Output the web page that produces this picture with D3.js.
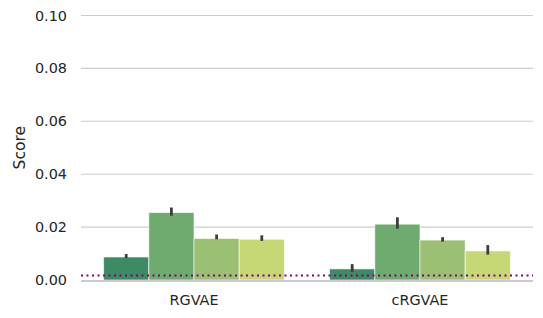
<!DOCTYPE html>
<html>
<head>
<meta charset="utf-8">
<script src="https://cdn.jsdelivr.net/npm/d3@7"></script>
<style>
  body { margin: 0; background: #fff; }
  text { font-family: "DejaVu Sans", sans-serif; fill: #262626; }
</style>
</head>
<body>
<div id="chart"></div>
<script>
// models on the x axis, four runs per model
var models = ["RGVAE", "cRGVAE"];
var runs = ["r1", "r2", "r3", "r4"];
var scores = [
    [0.0087, 0.0255, 0.0157, 0.0154],
    [0.0042, 0.0211, 0.0151, 0.0110]];
var errLow = [
    [0.0083, 0.0243, 0.0154, 0.0148],
    [0.0031, 0.0194, 0.0145, 0.0096]];
var errHigh = [
    [0.0098, 0.0274, 0.0172, 0.0169],
    [0.0060, 0.0237, 0.0162, 0.0132]];
var baseline = 0.0017;
var yTicks = [0, 0.02, 0.04, 0.06, 0.08, 0.10];

var width = 543,
    height = 318,
    margin = {top: 15.5, right: 10, bottom: 38, left: 81};

var color = d3.scaleOrdinal()
    .domain(runs)
    .range(["#3e8a65", "#6faa6e", "#9bbf73", "#c6d775"]);

var x = d3.scaleBand()
    .domain(models)
    .range([margin.left, width - margin.right]);

var xInner = d3.scaleBand()
    .domain(runs)
    .range([0, x.bandwidth() * 0.8]);

var y = d3.scaleLinear()
    .domain([0, 0.10])
    .range([height - margin.bottom, margin.top]);

var svg = d3.select("#chart")
    .append("svg")
    .attr("width", width)
    .attr("height", height);

// grid
svg.append("g")
    .selectAll("line")
    .data(yTicks.slice(1))
    .enter().append("line")
    .attr("x1", margin.left)
    .attr("x2", width - margin.right)
    .attr("y1", function (d) { return y(d); })
    .attr("y2", function (d) { return y(d); })
    .attr("stroke", "#cccccc")
    .attr("stroke-width", 1.1);

// y labels
svg.append("g")
    .selectAll("text")
    .data(yTicks)
    .enter().append("text")
    .attr("x", margin.left - 14)
    .attr("y", function (d) { return y(d); })
    .attr("dy", "0.35em")
    .attr("text-anchor", "end")
    .style("font-size", "14.4px")
    .text(function (d) { return d3.format(".2f")(d); });

svg.append("text")
    .attr("transform", "translate(25," + (height - margin.bottom + margin.top) / 2 + ") rotate(-90)")
    .attr("text-anchor", "middle")
    .style("font-size", "15.5px")
    .text("Score");

// bars
var flat = [];
models.forEach(function (m, i) {
    runs.forEach(function (r, j) {
        flat.push({model: m, run: r, value: scores[i][j], lo: errLow[i][j], hi: errHigh[i][j]});
    });
});

var bars = svg.append("g")
    .selectAll("g")
    .data(flat)
    .enter().append("g")
    .attr("transform", function (d) {
        return "translate(" + (x(d.model) + x.bandwidth() * 0.1 + xInner(d.run)) + ",0)";
    });

bars.append("rect")
    .attr("x", 0)
    .attr("width", xInner.bandwidth())
    .attr("y", function (d) { return y(d.value); })
    .attr("height", function (d) { return y(0) - y(d.value); })
    .attr("fill", function (d) { return color(d.run); })
    .attr("stroke", "#ffffff")
    .attr("stroke-opacity", 0.6)
    .attr("stroke-width", 1);

bars.append("line")
    .attr("x1", xInner.bandwidth() / 2)
    .attr("x2", xInner.bandwidth() / 2)
    .attr("y1", function (d) { return y(d.lo); })
    .attr("y2", function (d) { return y(d.hi); })
    .attr("stroke", "#3d3d3d")
    .attr("stroke-width", 2.8)
    .attr("stroke-linecap", "butt");

// bottom spine
svg.append("line")
    .attr("x1", margin.left)
    .attr("x2", width - margin.right)
    .attr("y1", y(0) + 1)
    .attr("y2", y(0) + 1)
    .attr("stroke", "#cccccc")
    .attr("stroke-width", 1.8);

// baseline
svg.append("line")
    .attr("x1", margin.left)
    .attr("x2", width - margin.right)
    .attr("y1", y(baseline))
    .attr("y2", y(baseline))
    .attr("stroke", "#800080")
    .attr("stroke-width", 2)
    .attr("stroke-dasharray", "2,3.5");

// x labels
svg.append("g")
    .selectAll("text")
    .data(models)
    .enter().append("text")
    .attr("x", function (d) { return x(d) + x.bandwidth() / 2; })
    .attr("y", 305)
    .attr("text-anchor", "middle")
    .style("font-size", "14.4px")
    .text(function (d) { return d; });
</script>
</body>
</html>
